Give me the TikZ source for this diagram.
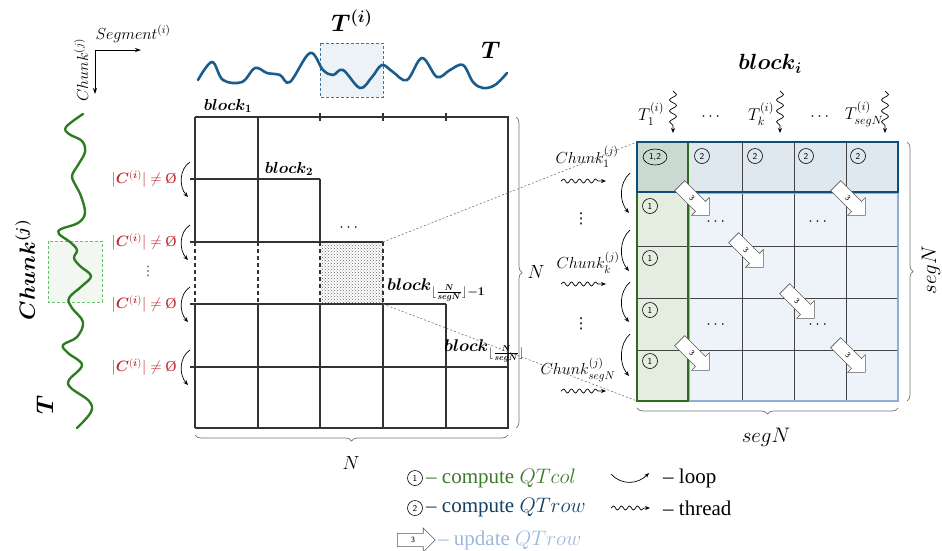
\RequirePackage{fix-cm}
\documentclass[tikz,border=0pt]{standalone}
\usepackage{amsmath}
\usepackage{bm}
\usepackage{fontspec}
\setmainfont{Liberation Serif}
\newfontfamily\dvsfont{DejaVu Sans}
\usetikzlibrary{decorations.pathmorphing,decorations.pathreplacing,shapes.geometric,shapes.arrows,patterns,arrows.meta}
\definecolor{wblue}{HTML}{1B5C8C}
\definecolor{dblue}{HTML}{0E4E7E}
\definecolor{dgreen}{HTML}{2E6B1E}
\definecolor{wgreen}{HTML}{2F7D22}
\definecolor{lblue}{HTML}{8EAED6}
\definecolor{txtgreen}{HTML}{3D7A2B}
\definecolor{txtblue}{HTML}{123F66}
\definecolor{txtlblue}{HTML}{9DB8DC}
\definecolor{cred}{HTML}{C0272D}
\definecolor{topfill}{HTML}{DFE7EF}
\definecolor{colfill}{HTML}{E4EDE0}
\definecolor{cornfill}{HTML}{CADAD3}
\definecolor{restfill}{HTML}{EEF3F9}
\definecolor{gridc}{HTML}{444444}
\tikzset{
  mline/.style={draw=black!80, line width=1.1pt},
  dline/.style={draw=black!80, line width=1.1pt, dash pattern=on 4pt off 3pt},
  loop/.style={-{Stealth[length=5pt,width=4pt]}, line width=0.7pt},
  thread/.style={-{Stealth[length=5pt,width=4pt]}, line width=0.7pt, decorate,
     decoration={snake, amplitude=2pt, segment length=8pt, post length=5pt}},
  vthread/.style={-{Stealth[length=5pt,width=4pt]}, line width=0.7pt, decorate,
     decoration={snake, amplitude=3.5pt, segment length=11pt, post length=5pt}},
  num/.style={circle, draw, line width=0.6pt, inner sep=0pt, minimum size=15pt, font=\sffamily\fontsize{9}{9}\selectfont},
  upd/.style={single arrow, draw=black!65, fill=white, line width=0.6pt, minimum height=42pt,
     single arrow head extend=5.5pt, inner xsep=3pt, inner ysep=4pt, font=\sffamily\fontsize{8}{8}\selectfont},
  brc/.style={draw=black!55, line width=0.7pt, decorate, decoration={brace, amplitude=6pt}},
  conn/.style={draw=black!55, line width=0.6pt, dash pattern=on 2pt off 2pt},
  lbl/.style={inner sep=1pt, font=\fontsize{16}{18}\selectfont},
  big/.style={inner sep=1pt, font=\fontsize{22}{24}\selectfont},
  red/.style={text=cred, inner sep=1pt, font=\fontsize{15}{17}\selectfont},
  leg/.style={anchor=west, inner sep=1pt, font=\fontsize{21}{23}\selectfont},
  vdt/.style={inner sep=0pt, font=\dvsfont\fontsize{13}{13}\selectfont}
}
\begin{document}
\begin{tikzpicture}[x=1pt,y=-1pt]
\useasboundingbox (0,0) rectangle (942,550);

% ---------- top-left axes ----------
\coordinate (ax0) at (95,50);
\coordinate (axr) at (141,50);
\coordinate (axd) at (95,94);
\draw[-{Stealth[length=6pt,width=4pt]}, line width=0.8pt] (ax0) -- (axr);
\draw[-{Stealth[length=6pt,width=4pt]}, line width=0.8pt] (ax0) -- (axd);
\node[lbl] (seg) at (133,34) {$Segment^{(i)}$};
\node[lbl, rotate=90] (chk) at (81,70) {$Chunk^{(j)}$};

% ---------- top wave ----------
\fill[fill=wblue!8] (320,43) rectangle (383,97);
\draw[wblue!85, line width=0.9pt, dash pattern=on 3pt off 2pt] (320,43) rectangle (383,97);
\draw[wblue, line width=2.6pt, line cap=round] plot[smooth, tension=0.6] coordinates {
 (198,80) (212,62) (223,80) (242,82) (255,68) (267,73) (280,75) (290,82) (310,53) (323,70)
 (333,75) (343,70) (360,88) (372,77) (382,65) (393,72) (407,80) (422,58) (437,77) (450,70)
 (463,65) (473,82) (483,88) (495,85) (507,73)};
\node[big, font=\fontsize{24}{26}\selectfont] (Ti) at (352,21) {$\bm{T^{(i)}}$};
\node[big, font=\fontsize{24}{26}\selectfont] (Ttop) at (491,50) {$\bm{T}$};

% ---------- left green wave ----------
\fill[fill=wgreen!6] (48,241) rectangle (102,302);
\draw[green!60!black!60, line width=0.9pt, dash pattern=on 3pt off 2pt] (48,241) rectangle (102,302);
\draw[wgreen, line width=2.4pt, line cap=round] plot[smooth, tension=0.6] coordinates {
 (83,114) (66,127) (69,134) (82,141) (85,152) (78,165) (72,176) (76,186) (81,196) (85,213)
 (78,223) (61,229) (59,234) (70,242) (77,250) (74,258) (80,266) (91,276) (82,286) (69,298)
 (72,308) (83,322) (77,337) (63,345) (68,353) (82,365) (69,380) (71,388) (89,401) (91,412) (77,428)};
\node[big] (Chunkj) at (25,270) [rotate=90] {$\bm{Chunk^{(j)}}$};
\node[big, font=\fontsize{24}{26}\selectfont] (Tleft) at (45,405) [rotate=90] {$\bm{T}$};

% ---------- left matrix ----------
\fill[pattern=crosshatch dots, pattern color=black!60] (320,242) rectangle (383,304);
\draw[mline] (195,117) -- (508,117) -- (508,428) -- (195,428);
\draw[mline] (195,117) -- (195,242) (195,304) -- (195,428);
\draw[dline] (195,242) -- (195,304);
\draw[mline] (258,117) -- (258,242) (258,304) -- (258,428);
\draw[dline] (258,242) -- (258,304);
\draw[mline] (320,179) -- (320,242) (320,304) -- (320,428);
\draw[dline] (320,242) -- (320,304);
\draw[dline] (383,242) -- (383,304);
\draw[mline] (383,304) -- (383,428);
\draw[mline] (446,304) -- (446,428);
\draw[mline] (190,179) -- (320,179);
\draw[mline] (190,242) -- (383,242);
\draw[mline] (190,304) -- (446,304);
\draw[mline] (190,367) -- (508,367);
\foreach \x in {320,383,446} \draw[mline] (\x,113) -- (\x,121);

\node[lbl] (b1) at (228,106) {$\bm{block_1}$};
\node[lbl] (b2) at (289,169) {$\bm{block_2}$};
\node[lbl] (bd) at (350,228) {$\cdots$};
\node[lbl, anchor=west, font=\fontsize{17}{19}\selectfont] (bm1) at (386,290) {$\bm{block}_{\lfloor\frac{\bm{N}}{\bm{segN}}\rfloor\bm{-1}}$};
\node[lbl, anchor=west, font=\fontsize{17}{19}\selectfont] (bmN) at (443,351) {$\bm{block}_{\lfloor\frac{\bm{N}}{\bm{segN}}\rfloor}$};

% loops and conditions
\foreach \yy/\nm in {179/a,242/b,304/c,367/d}{
  \draw[loop] (190,\yy-17) .. controls (179,\yy-10) and (179,\yy+8) .. (188,\yy+18);
  \node[red] (cond\nm) at (144,\yy) {$|\bm{C}^{(\bm{i})}|\neq$ Ø};
}
\node[vdt, text=black!70] (vd) at (148,271) {⋮};

% braces left
\coordinate (brA) at (516,117); \coordinate (brB) at (516,428);
\draw[brc] (brA) -- (brB);
\node[lbl, font=\fontsize{19}{21}\selectfont] (N1) at (536,272) {$N$};
\coordinate (brC) at (508,435); \coordinate (brD) at (195,435);
\draw[brc] (brC) -- (brD);
\node[lbl, font=\fontsize{19}{21}\selectfont] (N2) at (351,463) {$N$};

% ---------- right matrix ----------
\fill[restfill] (688,192) rectangle (898,401);
\fill[topfill] (637,142) rectangle (898,192);
\fill[colfill] (637,192) rectangle (688,401);
\fill[cornfill] (637,142) rectangle (688,192);
\foreach \x in {742,794,846} \draw[gridc, line width=0.8pt] (\x,142) -- (\x,401);
\foreach \y in {246,298,350} \draw[gridc, line width=0.8pt] (637,\y) -- (898,\y);
\draw[lblue, line width=2.8pt] (689,193) rectangle (898,401);
\draw[dgreen, line width=2.8pt] (637,142) rectangle (688,401);
\draw[dblue, line width=2.8pt] (637,142) rectangle (898,192);

\node[num, ellipse, minimum width=24pt, minimum height=16pt] (n12) at (655,157) {1,2};
\foreach \x/\nm in {702/a,755/b,806/c,858/d} \node[num] (two\nm) at (\x,156) {2};
\foreach \y/\nm in {206/a,258/b,310/c,361/d} \node[num] (one\nm) at (650,\y) {1};
\foreach \p/\nm in {{(717,222)}/a,{(819,222)}/b,{(717,325)}/c,{(819,325)}/d} \node[lbl] (dd\nm) at \p {$\cdots$};

\foreach \p/\nm in {{(692,198)}/a,{(848,198)}/b,{(746,250)}/c,{(797,301)}/d,{(692,353)}/e,{(848,355)}/f}
  \node[upd, rotate=-45] (u\nm) at \p {3};

\node[big] (blki) at (770,64) {$\bm{block_i}$};
\node[lbl, font=\fontsize{17}{19}\selectfont] (T1) at (651,114) {$T_1^{(i)}$};
\node[lbl] (dT1) at (712,117) {$\cdots$};
\node[lbl, font=\fontsize{17}{19}\selectfont] (Tk) at (761,114) {$T_k^{(i)}$};
\node[lbl] (dT2) at (821,117) {$\cdots$};
\node[lbl, font=\fontsize{17}{19}\selectfont] (TsN) at (864,114) {$T_{segN}^{(i)}$};
\foreach \x/\nm in {673/a,780/b,885/c}{
  \coordinate (vt\nm) at (\x,91); \coordinate (vb\nm) at (\x,133);
  \draw[vthread] (vt\nm) -- (vb\nm);
}

\node[lbl] (C1) at (587,157) {$Chunk_1^{(j)}$};
\node[lbl] (Ck) at (588,263) {$Chunk_k^{(j)}$};
\node[lbl] (CsN) at (578,370) {$Chunk_{segN}^{(j)}$};
\node[vdt, font=\dvsfont\fontsize{15}{15}\selectfont] (v1) at (581,219) {⋮};
\node[vdt, font=\dvsfont\fontsize{15}{15}\selectfont] (v2) at (581,324) {⋮};
\foreach \y/\nm in {181/a,284/b,391/c}{
  \coordinate (wl\nm) at (561,\y); \coordinate (wr\nm) at (606,\y);
  \draw[thread] (wl\nm) -- (wr\nm);
}
\foreach \ya/\yb in {173/213,230/271,282/322,334/376}
  \draw[loop] (630,\ya) .. controls (619,\ya+10) and (619,\yb-12) .. (629,\yb);

% connectors between block and zoom
\coordinate (dbTR) at (383,242); \coordinate (dbBR) at (383,304);
\coordinate (rmTL) at (637,142); \coordinate (rmBL) at (637,401);
\draw[conn] (dbTR) -- (rmTL);
\draw[conn] (dbBR) -- (rmBL);

% braces right
\coordinate (brE) at (907,142); \coordinate (brF) at (907,401);
\draw[brc] (brE) -- (brF);
\node[lbl, font=\fontsize{21}{23}\selectfont, rotate=90] (sN1) at (931,270) {$segN$};
\coordinate (brG) at (898,408); \coordinate (brH) at (637,408);
\draw[brc] (brG) -- (brH);
\node[lbl, font=\fontsize{21}{23}\selectfont] (sN2) at (766,437) {$segN$};

% ---------- legend ----------
\node[num] (L1) at (415,478) {1};
\node[leg, text=txtgreen] (L1t) at (425,478) {– compute $QTcol$};
\node[num] (L2) at (415,508) {2};
\node[leg, text=txtblue] (L2t) at (425,508) {– compute $QTrow$};
\node[upd, minimum height=38pt, inner ysep=3.5pt] (L3) at (413,540) {3};
\node[leg, text=txtlblue] (L3t) at (437,540) {– update $QTrow$};
\coordinate (lpA) at (611,474); \coordinate (lpB) at (649,473);
\draw[loop] (lpA) .. controls (622,486) and (638,484) .. (lpB);
\node[leg] (lpt) at (662,478) {– loop};
\coordinate (thA) at (611,508); \coordinate (thB) at (650,508);
\draw[thread] (thA) -- (thB);
\node[leg] (tht) at (662,508) {– thread};
\end{tikzpicture}
\end{document}
